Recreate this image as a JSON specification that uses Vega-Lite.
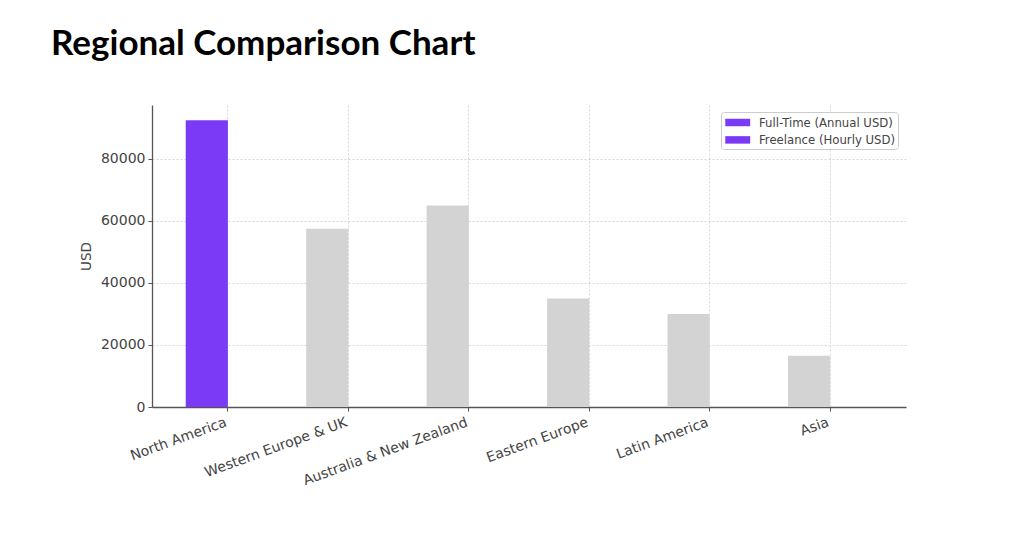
{
  "$schema": "https://vega.github.io/schema/vega-lite/v6.json",
  "width": 754,
  "height": 302,
  "autosize": {"type": "none"},
  "padding": {"left": 152, "top": 105, "right": 118, "bottom": 129},
  "background": "white",
  "title": {
    "text": "Regional Comparison Chart",
    "anchor": "start",
    "frame": "group",
    "dx": -101,
    "offset": 15,
    "baseline": "alphabetic",
    "font": "Lato",
    "fontSize": 35,
    "fontWeight": "bold",
    "color": "#000000"
  },
  "config": {
    "view": {"stroke": null},
    "axis": {
      "labelFont": "DejaVu Sans",
      "titleFont": "DejaVu Sans",
      "labelColor": "#444444",
      "titleColor": "#444444",
      "domainColor": "#555555",
      "domainWidth": 1.3,
      "tickColor": "#555555",
      "tickSize": 4,
      "gridColor": "#cccccc",
      "gridDash": [2, 2],
      "gridWidth": 0.8
    }
  },
  "data": {
    "values": [
      {"region": "North America", "series": "Full-Time (Annual USD)", "value": 92500},
      {"region": "Western Europe & UK", "series": "Full-Time (Annual USD)", "value": 57500},
      {"region": "Australia & New Zealand", "series": "Full-Time (Annual USD)", "value": 65000},
      {"region": "Eastern Europe", "series": "Full-Time (Annual USD)", "value": 35000},
      {"region": "Latin America", "series": "Full-Time (Annual USD)", "value": 30000},
      {"region": "Asia", "series": "Full-Time (Annual USD)", "value": 16500},
      {"region": "North America", "series": "Freelance (Hourly USD)", "value": 75},
      {"region": "Western Europe & UK", "series": "Freelance (Hourly USD)", "value": 55},
      {"region": "Australia & New Zealand", "series": "Freelance (Hourly USD)", "value": 60},
      {"region": "Eastern Europe", "series": "Freelance (Hourly USD)", "value": 35},
      {"region": "Latin America", "series": "Freelance (Hourly USD)", "value": 30},
      {"region": "Asia", "series": "Freelance (Hourly USD)", "value": 20}
    ]
  },
  "encoding": {
    "x": {
      "field": "region",
      "type": "nominal",
      "sort": null,
      "scale": {"paddingInner": 0.3, "paddingOuter": 0.28},
      "axis": {
        "title": null,
        "labelAngle": -20,
        "labelAlign": "right",
        "labelBaseline": "top",
        "labelFontSize": 14,
        "labelPadding": 4,
        "labelOffset": -4,
        "labelOverlap": false,
        "grid": true,
        "domain": true
      }
    },
    "xOffset": {
      "field": "series",
      "type": "nominal",
      "scale": {"domain": ["Full-Time (Annual USD)", "Freelance (Hourly USD)"], "paddingInner": 0, "paddingOuter": 0}
    },
    "y": {
      "field": "value",
      "type": "quantitative",
      "scale": {"domain": [0, 97400], "nice": false},
      "axis": {
        "title": "USD",
        "titleFontSize": 13.5,
        "titleFontWeight": "normal",
        "titlePadding": 7,
        "labelFontSize": 14,
        "labelPadding": 3,
        "format": "d",
        "values": [0, 20000, 40000, 60000, 80000],
        "grid": true
      }
    }
  },
  "layer": [
    {
      "transform": [{"filter": "datum.series === 'Full-Time (Annual USD)'"}],
      "mark": {"type": "bar"},
      "encoding": {
        "fill": {
          "condition": {"test": "datum.region === 'North America'", "value": "#7b3af5"},
          "value": "#d3d3d3"
        }
      }
    },
    {
      "transform": [{"filter": "datum.series === 'Freelance (Hourly USD)'"}],
      "mark": {"type": "bar", "opacity": 0},
      "encoding": {
        "color": {
          "field": "series",
          "type": "nominal",
          "scale": {"domain": ["Full-Time (Annual USD)", "Freelance (Hourly USD)"], "range": ["#7b3af5", "#7b3af5"]},
          "legend": {
            "title": null,
            "orient": "none",
            "legendX": 569,
            "legendY": 7,
            "padding": 2,
            "strokeColor": "#cccccc",
            "fillColor": "#ffffff",
            "cornerRadius": 3,
            "symbolType": "M-0.75,-0.45H2.25V0.45H-0.75Z",
            "symbolSize": 276,
            "symbolOpacity": 1,
            "symbolFillColor": "#7b3af5",
            "symbolStrokeWidth": 0,
            "labelFont": "DejaVu Sans",
            "labelFontSize": 11.7,
            "labelColor": "#444444",
            "labelOffset": 19,
            "rowPadding": 1.4
          }
        }
      }
    }
  ]
}
